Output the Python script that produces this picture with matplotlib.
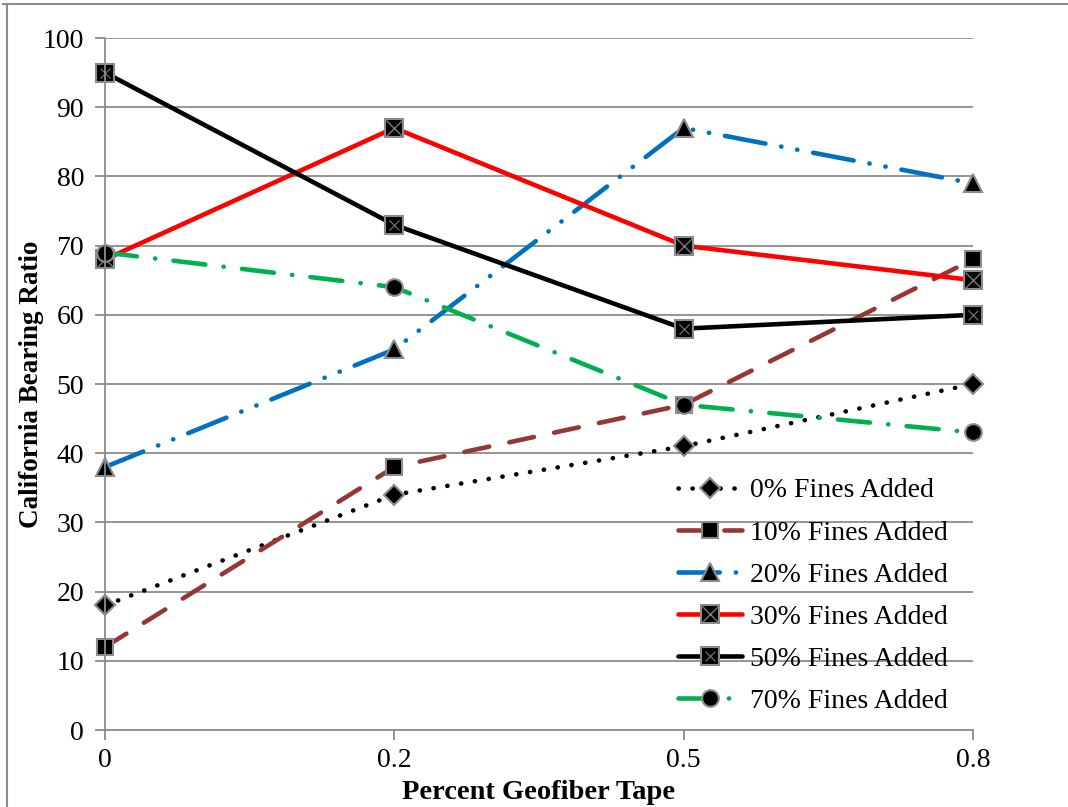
import matplotlib.pyplot as plt
from matplotlib.lines import Line2D
from matplotlib.legend_handler import HandlerTuple

plt.rcParams['font.family'] = ['Liberation Serif', 'DejaVu Serif']

# CBR results for each fines content
tape_pct = ['0', '0.2', '0.5', '0.8']
fines_labels = ['0% Fines Added', '10% Fines Added', '20% Fines Added',
                '30% Fines Added', '50% Fines Added', '70% Fines Added']
cbr_0 = [18, 34, 41, 50]
cbr_10 = [12, 38, 47, 68]
cbr_20 = [38, 55, 87, 79]
cbr_30 = [68, 87, 70, 65]
cbr_50 = [95, 73, 58, 60]
cbr_70 = [69, 64, 47, 43]

series = [cbr_0, cbr_10, cbr_20, cbr_30, cbr_50, cbr_70]
colors = ['black', '#953735', '#0070C0', '#FF0000', 'black', '#00B050']
styles = [(0, (0.05, 3.0)), (0, (5.5, 4.5)), (0, (9, 3.5, 0.05, 3.5, 0.05, 3.5)),
          '-', '-', (0, (7, 4, 0.05, 4))]
markers = ['D', 's', '^', 's', 's', 'o']
msizes = [10, 12, 13, 13, 13, 12]
overlay = [None, None, None, ('x', 12, 1.0), ('x', 7, 0.8), None]

fig = plt.figure(figsize=(10.68, 8.07), dpi=100)
ax = fig.add_axes([0.0983, 0.0954, 0.8127, 0.8575])

xs = range(len(tape_pct))
handles = []
for vals, c, ls, m, ms, ov, lab in zip(series, colors, styles, markers, msizes, overlay, fines_labels):
    ln, = ax.plot(xs, vals, color=c, linestyle=ls, linewidth=3.3,
                  dash_capstyle='round', solid_capstyle='round',
                  marker=m, markersize=ms, markerfacecolor='black',
                  markeredgecolor='#8c8c8c', markeredgewidth=1.5, label=lab,
                  clip_on=False)
    if ov is not None:
        om, oms, omw = ov
        ov_ln, = ax.plot(xs, vals, linestyle='none', marker=om, markersize=oms,
                         markeredgecolor='#7a7a7a', markeredgewidth=omw,
                         clip_on=False)
        handles.append((ln, ov_ln))
    else:
        handles.append(ln)

ax.set_xlim(0, 3)
ax.set_ylim(0, 100)
ax.set_yticks(range(0, 101, 10))
ax.set_xticks(list(xs))
ax.set_xticklabels(tape_pct)
ax.grid(axis='y', color='#8c8c8c', linewidth=1.3)
ax.set_axisbelow(True)

for side in ['top', 'right']:
    ax.spines[side].set_visible(False)
for side in ['left', 'bottom']:
    ax.spines[side].set_color('#8c8c8c')
    ax.spines[side].set_linewidth(1.3)
ax.tick_params(axis='both', colors='#8c8c8c', width=1.3, length=7,
               labelcolor='black', labelsize=20)
ax.tick_params(axis='y', pad=8)
ax.tick_params(axis='x', pad=6)

ax.set_xlabel('Percent Geofiber Tape', fontsize=20.5, fontweight='bold', labelpad=5)
ax.set_ylabel('California Bearing Ratio', fontsize=19.5, fontweight='bold', labelpad=-1)

ax.legend(handles, fines_labels, loc='lower right', bbox_to_anchor=(1.0, -0.013),
          frameon=False, fontsize=20, handlelength=2.3, handletextpad=0.3,
          labelspacing=0.6, numpoints=1,
          handler_map={tuple: HandlerTuple(ndivide=1, pad=0)})

# outer frame lines along the left and top edges
fig.add_artist(Line2D([0.0066, 0.0066], [0.0, 0.995], color='#8c8c8c', linewidth=1.5))
fig.add_artist(Line2D([0.003, 1.0], [0.995, 0.995], color='#8c8c8c', linewidth=1.5))

fig.savefig('out.png', dpi=100)
